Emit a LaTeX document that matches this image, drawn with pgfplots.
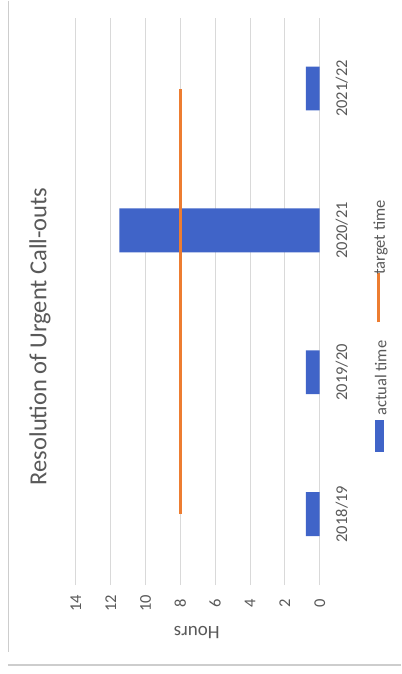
\documentclass[border=0pt]{standalone}
\usepackage{pgfplots}
\pgfplotsset{compat=1.18}
\usepackage{fontspec}
\setmainfont{Carlito}

\definecolor{barblue}{RGB}{64,100,200}
\definecolor{lineorange}{RGB}{237,125,49}
\definecolor{txtgray}{RGB}{89,89,89}
\definecolor{gridgray}{RGB}{217,217,217}
\definecolor{framegray}{RGB}{205,205,205}

\newcommand{\lblfont}{\fontsize{16.5bp}{18bp}\selectfont}

\begin{document}
\begin{tikzpicture}[x=1bp,y=1bp]
  % page background and frame
  \fill[white] (0,0) rectangle (401,674);
  \draw[framegray, line width=1.2bp] (8.5,674) -- (8.5,22);
  \draw[framegray, line width=2bp] (8,9) -- (401,9);

  \begin{axis}[
    at={(76bp,89bp)}, anchor=south west,
    scale only axis, width=244bp, height=568bp,
    x dir=reverse,
    xmin=0, xmax=14, ymin=-0.5, ymax=3.5,
    xtick={0,2,...,14},
    ytick={0,1,2,3},
    yticklabels={2018/19,2019/20,2020/21,2021/22},
    axis line style={draw=none},
    major tick length=0pt,
    xmajorgrids,
    grid style={gridgray, line width=1bp},
    /pgf/number format/assume math mode=true,
    tick label style={font=\lblfont, text=txtgray},
    xticklabel style={yshift=-18bp, rotate=90, anchor=center},
    yticklabel pos=right,
    yticklabel style={xshift=22bp, rotate=90, anchor=center},
    clip=false,
  ]
    % actual time (hours)
    \addplot[xbar, bar width=44bp, fill=barblue, draw=none]
      coordinates {(0.8,0) (0.8,1) (11.5,2) (0.8,3)};
    % target time (hours)
    \addplot[lineorange, line width=2.6bp, mark=none]
      coordinates {(8,0) (8,1) (8,2) (8,3)};
  \end{axis}

  % title
  \node[rotate=90, text=txtgray, font=\fontsize{24.5bp}{28bp}\selectfont]
    at (40,338) {Resolution of Urgent Call-outs};
  % value axis title
  \node[rotate=180, text=txtgray, font=\fontsize{19bp}{22bp}\selectfont]
    at (197,42) {Hours};

  % legend
  \fill[barblue] (375,222) rectangle (384,254);
  \node[rotate=90, text=txtgray, font=\lblfont] at (381,296) {actual time};
  \draw[lineorange, line width=2.6bp] (379,352) -- (379,401);
  \node[rotate=90, text=txtgray, font=\lblfont] at (381,437) {target time};
\end{tikzpicture}
\end{document}
